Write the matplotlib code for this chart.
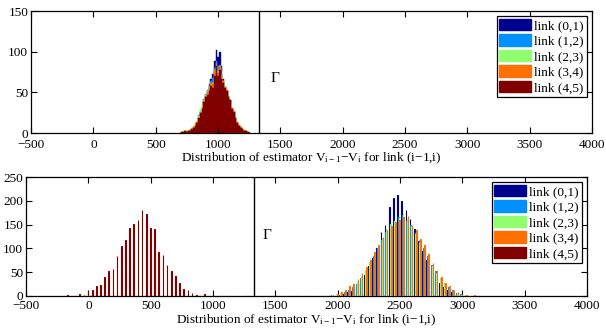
import numpy as np
import matplotlib
matplotlib.use("Agg")
import matplotlib.pyplot as plt
from matplotlib.patches import Patch

plt.rcParams['font.family'] = ['Liberation Serif', 'DejaVu Serif']
plt.rcParams['mathtext.fontset'] = 'custom'
plt.rcParams['mathtext.rm'] = 'Liberation Serif'
plt.rcParams['mathtext.it'] = 'Liberation Serif:italic'

labels = ['link (0,1)', 'link (1,2)', 'link (2,3)', 'link (3,4)', 'link (4,5)']
colors = ['#00008F', '#0090FF', '#8FFF70', '#FF7000', '#800000']

gamma_x = 1330

# ---- top panel: fine histogram (bin centres start 707, width 14) ----
top_start = 700
top_width = 14
top_navy = [1, 1, 2, 1, 2, 3, 5, 6, 9, 12, 19, 26, 32, 40, 47, 52, 60, 66, 72, 88,
            102, 94, 99, 82, 66, 57, 52, 45, 40, 31, 26, 18, 13, 9, 6, 5, 3, 2, 1, 0]
top_blue = [1, 1, 2, 2, 3, 4, 6, 8, 12, 14, 22, 28, 33, 42, 48, 53, 58, 64, 68, 80,
            88, 82, 84, 72, 64, 56, 52, 44, 40, 30, 26, 18, 12, 10, 7, 5, 3, 2, 1, 0]
top_green = [1, 2, 2, 2, 3, 4, 6, 9, 12, 15, 21, 29, 34, 41, 47, 52, 56, 60, 62, 74,
             80, 76, 80, 70, 64, 57, 53, 45, 41, 31, 27, 19, 13, 9, 7, 6, 4, 3, 2, 1]
top_orange = [1, 1, 1, 2, 2, 4, 5, 7, 10, 13, 19, 26, 31, 39, 45, 50, 55, 62, 60, 78,
              86, 74, 82, 70, 64, 56, 53, 46, 41, 31, 27, 20, 14, 10, 7, 5, 4, 2, 1, 1]
top_maroon = [1, 1, 2, 1, 2, 3, 5, 6, 9, 12, 18, 25, 30, 38, 44, 47, 52, 58, 55, 70,
              82, 70, 78, 66, 62, 55, 52, 44, 40, 30, 26, 18, 12, 9, 6, 5, 3, 2, 1, 0]

# ---- bottom panel: grouped histogram, 100 bins ----
bot_start = -197
bot_width = 33.4
n_bins = 100
# link (4,5) counts from bin 0
bot_maroon = [3, 0, 1, 5, 3, 10, 12, 20, 23, 39, 52, 56, 85, 105, 118, 142, 151, 160,
              180, 172, 142, 140, 93, 87, 65, 53, 41, 27, 15, 12, 7, 3, 1, 5, 1]
# other links: counts from bin 63
bot_first = 63
bot_navy = [0, 2, 1, 3, 5, 8, 10, 18, 30, 45, 62, 80, 100, 134, 150, 187, 205, 213,
            199, 180, 161, 140, 115, 95, 75, 55, 40, 28, 18, 12, 8, 4, 3, 1, 1, 0, 0]
bot_blue = [1, 2, 3, 5, 8, 12, 18, 25, 38, 52, 68, 85, 100, 118, 135, 150, 160, 165,
            170, 158, 150, 135, 118, 100, 85, 66, 52, 38, 27, 18, 12, 7, 4, 2, 1, 1, 0]
bot_green = [0, 2, 4, 7, 10, 15, 22, 30, 42, 55, 72, 90, 105, 122, 140, 152, 158, 165,
             175, 162, 148, 130, 112, 95, 78, 62, 48, 35, 25, 16, 10, 6, 3, 2, 1, 2, 0]
bot_orange = [1, 3, 5, 9, 12, 20, 25, 35, 48, 60, 75, 92, 108, 125, 138, 148, 155, 160,
              165, 168, 150, 138, 120, 108, 88, 70, 55, 40, 28, 20, 12, 8, 4, 2, 1, 2, 1]

fig = plt.figure(figsize=(6.06, 3.28), dpi=100)
ax1 = fig.add_axes([31/606, 1-133/328, (592-31)/606, (133-11)/328])
ax2 = fig.add_axes([26/606, 1-296/328, (587-26)/606, (296-177)/328])

# top
top_series = [top_navy, top_blue, top_green, top_orange, top_maroon]
for vals, c in zip(top_series, colors):
    x = top_start + top_width/2 + top_width*np.arange(len(vals))
    ax1.bar(x, vals, width=top_width, color=c, edgecolor=c, linewidth=0.3)

# bottom
centers = bot_start + bot_width/2 + bot_width*np.arange(n_bins)
bw = 0.8*bot_width/5
bot_series = []
for lst, start in [(bot_navy, bot_first), (bot_blue, bot_first), (bot_green, bot_first),
                   (bot_orange, bot_first), (bot_maroon, 0)]:
    arr = np.zeros(n_bins)
    arr[start:start+len(lst)] = lst
    bot_series.append(arr)
for k, (arr, c) in enumerate(zip(bot_series, colors)):
    ax2.bar(centers + (k-2)*bw, arr, width=bw, color=c, edgecolor=c, linewidth=0.8,
            zorder=3)

xlabel = r"Distribution of estimator V$_{\mathrm{i-1}}$$-$V$_{\mathrm{i}}$ for link (i$-$1,i)"
for ax, ymax, ystep, gx, gy, tp, lp in [(ax1, 150, 50, 1420, 68, 4, 0),
                                         (ax2, 250, 50, 1390, 129, 3, 0)]:
    ax.set_xlim(-500, 4000)
    ax.set_ylim(0, ymax)
    ax.set_xticks(np.arange(-500, 4001, 500))
    ax.set_yticks(np.arange(0, ymax+1, ystep))
    ax.tick_params(direction='in', top=True, right=True, labelsize=9.5, length=4, pad=2)
    ax.tick_params(axis='x', pad=tp)
    ax.axvline(gamma_x, color='black', linewidth=1, zorder=4)
    ax.text(gx, gy, r'$\Gamma$', fontsize=11, va='center', ha='left')
    for s in ax.spines.values():
        s.set_linewidth(0.9)
    ax.set_xlabel(xlabel, fontsize=9.5, labelpad=lp)
    handles = [Patch(facecolor=c, edgecolor=c) for c in colors]
    leg = ax.legend(handles, labels, loc='upper right', fontsize=9.5, frameon=True,
                    fancybox=False, edgecolor='black', framealpha=1,
                    handlelength=2.4, handleheight=0.95, handletextpad=0.25,
                    labelspacing=0.17, borderpad=0.2, borderaxespad=0.4)
    leg.set_zorder(5)
    leg.get_frame().set_linewidth(0.9)

fig.savefig('out.png', dpi=100)
